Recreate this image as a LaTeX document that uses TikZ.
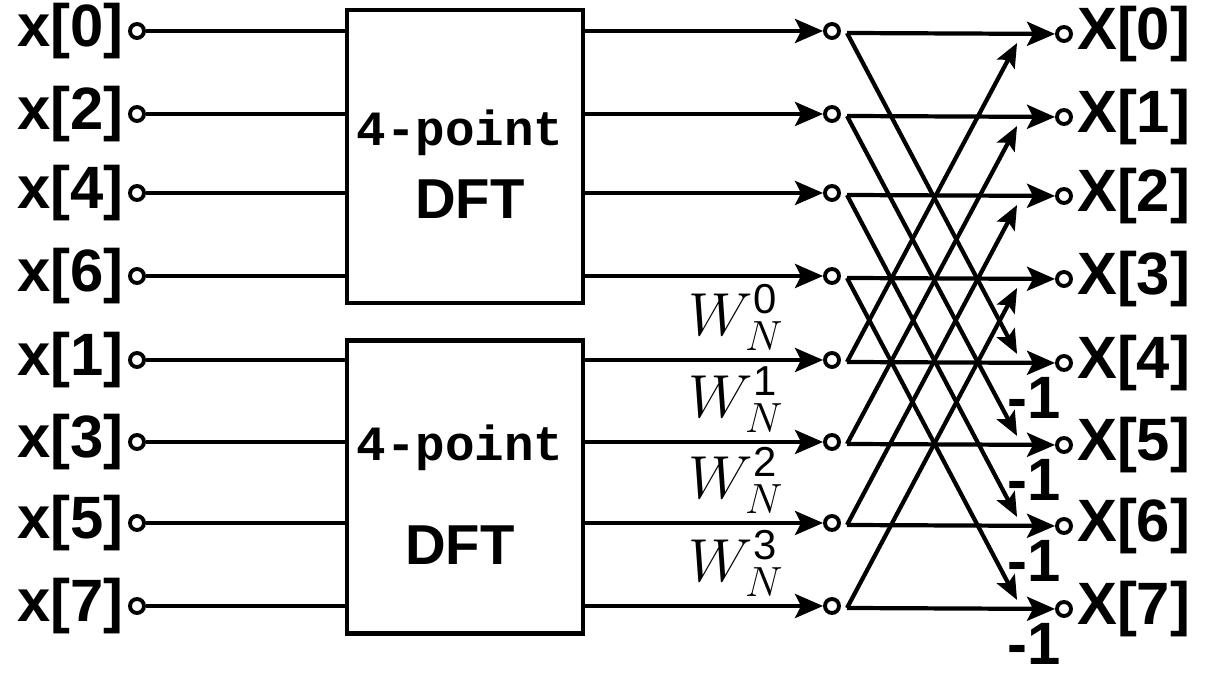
\documentclass[tikz,border=0pt]{standalone}
\usepackage{fontspec}
\setsansfont{Liberation Sans}
\setmonofont{Liberation Mono}
\usetikzlibrary{arrows.meta,calc,positioning}

\tikzset{
  port/.style={circle, draw, line width=1.1pt, inner sep=0pt, minimum size=0.14cm},
  wire/.style={line width=1.2pt},
  flow/.style={wire, -{Stealth[length=0.28cm,width=0.24cm,inset=0.06cm]}},
  cross/.style={wire, -{Stealth[length=0.24cm,width=0.2cm,inset=0.05cm]}},
  dftbox/.style={draw, line width=1.2pt, minimum width=2.36cm, minimum height=2.93cm, inner sep=0pt},
  seqlabel/.style={font=\sffamily\bfseries\fontsize{17}{20}\selectfont, inner sep=1pt},
  twiddle/.style={font=\fontsize{17}{20}\selectfont, inner sep=0pt},
}

\begin{document}
\begin{tikzpicture}[x=0.01cm, y=-0.01cm]
    \useasboundingbox (0,0) rectangle (1205,686);

    % 4-point DFT blocks
    \node[dftbox] (top) at (465,156.5) {};
    \node[dftbox] (bot) at (465,487) {};
    \node[font=\ttfamily\bfseries\fontsize{14}{16}\selectfont] (toppt) at (460,133) {4-point};
    \node[font=\sffamily\bfseries\fontsize{16}{18}\selectfont] (topdft) at (470,199) {DFT};
    \node[font=\ttfamily\bfseries\fontsize{14}{16}\selectfont] (botpt) at (460,448) {4-point};
    \node[font=\sffamily\bfseries\fontsize{16}{18}\selectfont] (botdft) at (460,545) {DFT};

    % inputs, block outputs and results
    \foreach \i/\n/\y/\b in {0/0/31/top, 1/2/114/top, 2/4/193/top, 3/6/276/top,
                             4/1/360/bot, 5/3/442/bot, 6/5/523/bot, 7/7/606/bot} {
        \node[port] (in\i) at (137,\y) {};
        \node[seqlabel, anchor=east] (xl\i) at (in\i.west) {x[\n]};
        \draw[wire] (in\i) -- (in\i -| \b.west);
        \node[port] (mid\i) at (832,\y) {};
        \draw[flow] (mid\i -| \b.east) -- (mid\i);
        \coordinate (b\i) at (847,\y+2);
        \node[port] (out\i) at (1064,\y+3) {};
        \node[seqlabel, anchor=west] (yl\i) at (out\i.east) {X[\i]};
        \draw[flow] (b\i) -- (out\i);
    }

    % butterflies
    \foreach \i in {0,...,3} {
        \pgfmathtruncatemacro{\j}{\i+4}
        \draw[cross] (b\i) -- ($(out\j.west)+(-38,-9)$);
        \draw[cross] (b\j) -- ($(out\i.west)+(-38,9)$);
        \node[twiddle, anchor=south east] (w\i) at ($(mid\j.west)+(-38,-9)$) {$W^{\mathsf{\i}}_{N}$};
        \node[seqlabel] (neg\i) at ($(out\j)+(-30,35)$) {-1};
    }
\end{tikzpicture}
\end{document}
